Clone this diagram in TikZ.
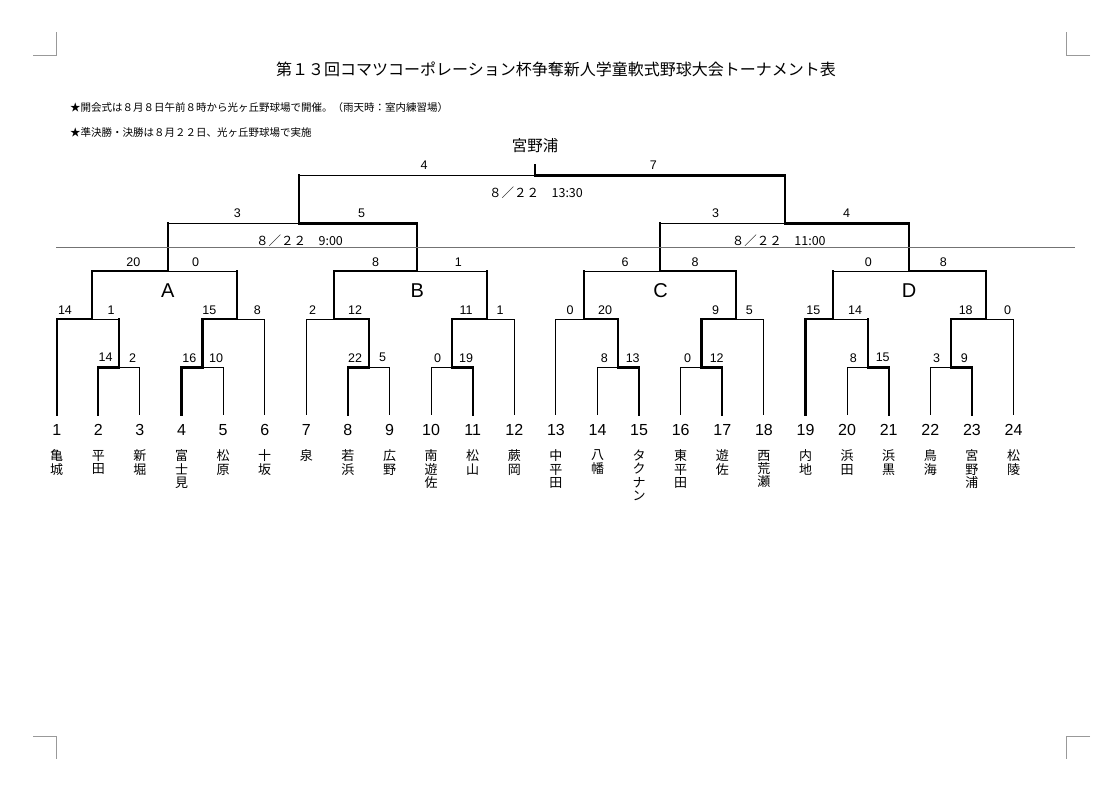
\documentclass[tikz,border=0pt]{standalone}
\usepackage{fontspec}
\setmainfont{Liberation Sans}
\newfontfamily\jpfont{Noto Sans CJK JP}
\usepackage{tikz}
\usetikzlibrary{positioning}

\begin{document}
\begin{tikzpicture}[
    x=1pt, y=-1pt,
    thinline/.style={line width=0.9pt},
    boldline/.style={line width=2.2pt, line cap=rect},
    score/.style={font=\fontsize{12.5}{14}\selectfont, inner sep=0pt},
    num/.style={font=\fontsize{16}{18}\selectfont, inner sep=0pt},
    team/.style={font=\jpfont\fontsize{13}{13.3}\selectfont, align=center, inner sep=0pt},
    blk/.style={font=\fontsize{20}{22}\selectfont, inner sep=0pt},
    date/.style={font=\jpfont\fontsize{12.5}{14}\selectfont, inner sep=0pt},
    note/.style={font=\jpfont\fontsize{10.5}{12}\selectfont, anchor=west, inner sep=0pt},
    crop/.style={draw=black!40, line width=0.8pt}
]
\useasboundingbox (0,0) rectangle (1120,791);

% Crop marks
\draw[crop] (33,55) -- (56,55) -- (56,32);
\draw[crop] (1090,55) -- (1066,55) -- (1066,32);
\draw[crop] (33,736) -- (56,736) -- (56,759);
\draw[crop] (1090,736) -- (1066,736) -- (1066,759);

% Title and notes
\node[font=\jpfont\fontsize{16}{18}\selectfont, inner sep=0pt] (title) at (556,69) {第１３回コマツコーポレーション杯争奪新人学童軟式野球大会トーナメント表};
\node[note] (note1) at (70,108) {★開会式は８月８日午前８時から光ヶ丘野球場で開催。（雨天時：室内練習場）};
\node[note] (note2) at (70,132.5) {★準決勝・決勝は８月２２日、光ヶ丘野球場で実施};

% Teams
\foreach \i in {1,...,24} {
    \node[num] (n\i) at ({56.7+41.6*(\i-1)},430) {\i};
    \coordinate (t\i) at ({56.7+41.6*(\i-1)},415);
}
\foreach \i/\nm in {1/亀\\城, 2/平\\田, 3/新\\堀, 4/富\\士\\見, 5/松\\原, 6/十\\坂,
    7/泉, 8/若\\浜, 9/広\\野, 10/南\\遊\\佐, 11/松\\山, 12/蕨\\岡,
    13/中\\平\\田, 14/八\\幡, 15/タ\\ク\\ナ\\ン, 16/東\\平\\田, 17/遊\\佐, 18/西\\荒\\瀬,
    19/内\\地, 20/浜\\田, 21/浜\\黒, 22/鳥\\海, 23/宮\\野\\浦, 24/松\\陵}
    \node[team, below=14pt of n\i] (name\i) {\nm};

% Match points
\coordinate (m2) at (119.1,367.5);
\coordinate (m4) at (202.5,367.5);
\coordinate (m8) at (368.7,367.5);
\coordinate (m10) at (451.9,367.5);
\coordinate (m14) at (618.3,367.5);
\coordinate (m16) at (701.5,367.5);
\coordinate (m20) at (867.9,367.5);
\coordinate (m22) at (951.1,367.5);
\coordinate (g1) at (91.7,319.3);
\coordinate (g2) at (236.7,319.3);
\coordinate (g3) at (334.3,319.3);
\coordinate (g4) at (486.7,319.3);
\coordinate (g5) at (584,319.3);
\coordinate (g6) at (735.7,319.3);
\coordinate (g7) at (833.3,319.3);
\coordinate (g8) at (985.7,319.3);
\coordinate (bA) at (168.3,271.3);
\coordinate (bB) at (417.3,271.3);
\coordinate (bC) at (660,271.3);
\coordinate (bD) at (909.3,271.3);
\coordinate (sL) at (299.3,223.5);
\coordinate (sR) at (785,223.5);
\coordinate (fin) at (535,175.5);
\coordinate (fintop) at (535,165);

% Losing lines
\foreach \a/\b in {t3/m2, t5/m4, t9/m8, t10/m10, t14/m14, t16/m16, t20/m20, t22/m22,
    t6/g2, t7/g3, t12/g4, t13/g5, t18/g6, t24/g8}
    \draw[thinline] (\a) |- (\b);
\foreach \a/\b in {m2/g1, m20/g7, g2/bA, g4/bB, g5/bC, g7/bD, bA/sL, bC/sR, sL/fin}
    \draw[thinline] (\a |- \b) -- (\b);

% Winning lines
\foreach \a/\b in {t2/m2, t4/m4, t8/m8, t11/m10, t15/m14, t17/m16, t21/m20, t23/m22, t1/g1, t19/g7}
    \draw[boldline] (\a) |- (\b);
\foreach \a/\b in {m2/g1, m4/g2, m8/g3, m10/g4, m14/g5, m16/g6, m20/g7, m22/g8,
    g1/bA, g2/bA, g3/bB, g4/bB, g5/bC, g6/bC, g7/bD, g8/bD, bA/sL, bB/sL, bC/sR, bD/sR, sL/fin, sR/fin}
    \draw[boldline] (\a) -- (\a |- \b);
\foreach \a/\b in {m4/g2, m8/g3, m10/g4, m14/g5, m16/g6, m22/g8, g1/bA, g3/bB, g6/bC, g8/bD, bB/sL, bD/sR, sR/fin}
    \draw[boldline] (\a |- \b) -- (\b);
\draw[boldline] (fin) -- (fintop);

% Scores
\foreach \m/\yy/\lx/\ls/\rx/\rs in {
    m2/357.7/105.7/14/132.7/2, m4/357.7/189.3/16/216/10, m8/357.7/355/22/382.7/5, m10/357.7/437.7/0/466/19,
    m14/357.7/604.3/8/632.7/13, m16/357.7/687.7/0/716.7/12, m20/357.7/853.3/8/882.7/15, m22/357.7/936.7/3/964.3/9,
    g1/310/65/14/111/1, g2/310/209.3/15/257.3/8, g3/310/312.7/2/355/12, g4/310/466/11/500/1,
    g5/310/570/0/605/20, g6/310/715.7/9/749.3/5, g7/310/813.3/15/855/14, g8/310/965.7/18/1007.7/0,
    bA/262/133.3/20/195.7/0, bB/262/375.7/8/458.3/1, bC/262/625/6/695/8, bD/262/868.3/0/943.3/8,
    sL/213.3/237.3/3/361.7/5, sR/213.3/715.7/3/846.7/4, fin/165.5/424/4/653.3/7} {
    \node[score] (\m-l) at (\lx,\yy) {\ls};
    \node[score] (\m-r) at (\rx,\yy) {\rs};
}

% Blocks
\node[blk] (lA) at (167.7,290.5) {A};
\node[blk] (lB) at (417.3,290.5) {B};
\node[blk] (lC) at (660.7,290.5) {C};
\node[blk] (lD) at (909,290.5) {D};

% Dates and winner
\node[date] (dfin) at (536,192.7) {８／２２　13:30};
\node[date] (dsL) at (299.5,240.7) {８／２２　9:00};
\node[date] (dsR) at (778.8,241) {８／２２　11:00};
\node[font=\jpfont\fontsize{15.5}{17}\selectfont, inner sep=0pt] (champ) at (535,146) {宮野浦};

% Rule
\coordinate (rl) at (56,247.5);
\coordinate (rr) at (1075,247.5);
\draw[black!55, line width=0.7pt] (rl) -- (rr);

\end{tikzpicture}
\end{document}
